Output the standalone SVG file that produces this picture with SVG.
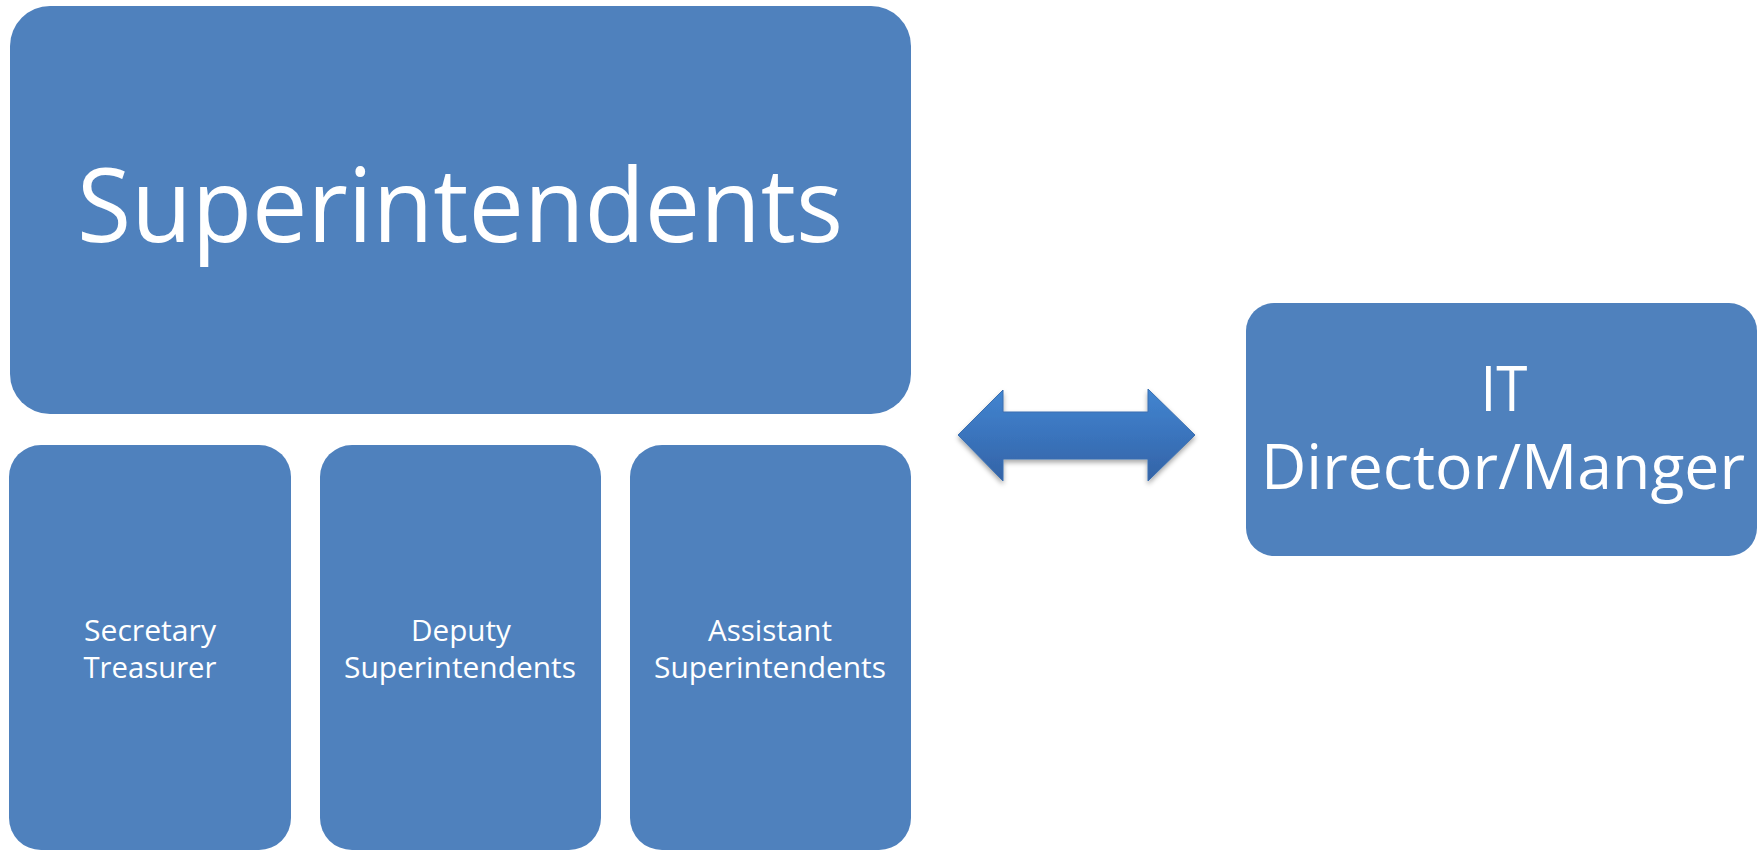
<svg xmlns="http://www.w3.org/2000/svg" width="1764" height="851" viewBox="0 0 1764 851">
  <style>
    .box { fill: #4f81bd; }
    .lbl { fill: #ffffff; font-family: "Open Sans", "Noto Sans", "Liberation Sans", sans-serif; text-anchor: middle; }
    .big { font-size: 102px; }
    .mid { font-size: 63px; }
    .sm { font-size: 29px; }
  </style>
  <defs>
    <linearGradient id="arrowGrad" x1="0" y1="0" x2="0" y2="1">
      <stop offset="0" stop-color="#4285d0"/>
      <stop offset="0.5" stop-color="#3a74bd"/>
      <stop offset="1" stop-color="#3463a6"/>
    </linearGradient>
    <filter id="shadow" x="-10%" y="-20%" width="120%" height="150%">
      <feDropShadow dx="0" dy="3" stdDeviation="2.5" flood-color="#000000" flood-opacity="0.35"/>
    </filter>
  </defs>

  <g id="superintendents">
    <rect class="box" x="10" y="6" width="901" height="408" rx="40" ry="40"/>
    <text class="lbl big" x="460" y="242" textLength="766" lengthAdjust="spacingAndGlyphs">Superintendents</text>
  </g>

  <g id="secretary-treasurer">
    <rect class="box" x="9" y="445" width="282" height="405" rx="32" ry="32"/>
    <text class="lbl sm" x="150" y="641" textLength="132" lengthAdjust="spacingAndGlyphs">Secretary</text>
    <text class="lbl sm" x="150" y="678" textLength="133" lengthAdjust="spacingAndGlyphs">Treasurer</text>
  </g>

  <g id="deputy-superintendents">
    <rect class="box" x="320" y="445" width="281" height="405" rx="32" ry="32"/>
    <text class="lbl sm" x="461" y="641" textLength="100" lengthAdjust="spacingAndGlyphs">Deputy</text>
    <text class="lbl sm" x="460" y="678" textLength="232" lengthAdjust="spacingAndGlyphs">Superintendents</text>
  </g>

  <g id="assistant-superintendents">
    <rect class="box" x="630" y="445" width="281" height="405" rx="32" ry="32"/>
    <text class="lbl sm" x="770" y="641" textLength="124" lengthAdjust="spacingAndGlyphs">Assistant</text>
    <text class="lbl sm" x="770" y="678" textLength="232" lengthAdjust="spacingAndGlyphs">Superintendents</text>
  </g>

  <g id="it-director">
    <rect class="box" x="1246" y="303" width="511" height="253" rx="28" ry="28"/>
    <text class="lbl mid" x="1504" y="411" textLength="47" lengthAdjust="spacingAndGlyphs">IT</text>
    <text class="lbl mid" x="1503" y="489" textLength="484" lengthAdjust="spacingAndGlyphs">Director/Manger</text>
  </g>

  <g id="connectors">
    <polygon points="958,435 1003,390 1003,412 1148,412 1148,389 1195,435 1148,481 1148,459 1003,459 1003,481" fill="url(#arrowGrad)" stroke="#3a6fb0" stroke-width="1" filter="url(#shadow)"/>
  </g>
</svg>
